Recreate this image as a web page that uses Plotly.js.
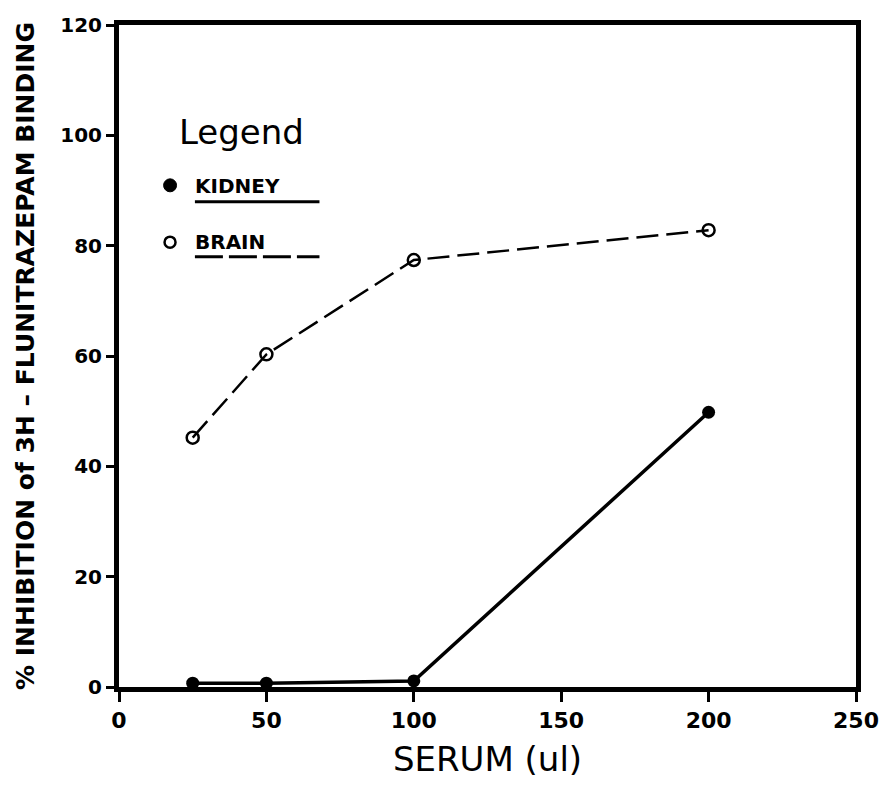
<!DOCTYPE html>
<html>
<head>
<meta charset="utf-8">
<script src="https://cdn.plot.ly/plotly-3.0.1.min.js"></script>
<style>body{margin:0;background:#fff;}#chart{width:891px;height:793px;}</style>
</head>
<body>
<div id="chart"></div>
<script>
const serum = [25, 50, 100, 200];
const kidney = [0.7, 0.7, 1.1, 49.8];
const brain = [45.2, 60.3, 77.4, 82.8];
const xTicks = [0, 50, 100, 150, 200, 250];
const yTicks = [0, 20, 40, 60, 80, 100, 120];

const fontFam = '"DejaVu Sans", "Liberation Sans", sans-serif';

const traces = [
  {
    x: serum, y: kidney, name: 'KIDNEY', mode: 'lines+markers',
    line: {color: '#000', width: 3.5},
    marker: {symbol: 'circle', size: 13, color: '#000'},
    showlegend: false
  },
  {
    x: serum, y: brain, name: 'BRAIN', mode: 'lines+markers',
    line: {color: '#000', width: 2.5, dash: '22px,8px'},
    marker: {symbol: 'circle-open', size: 12, color: '#000', line: {width: 2.5, color: '#000'}},
    showlegend: false
  }
];

const layout = {
  width: 891, height: 793,
  margin: {l: 119, r: 35, t: 25, b: 106},
  paper_bgcolor: '#fff', plot_bgcolor: '#fff',
  showlegend: false,
  xaxis: {
    range: [0, 250], tickvals: xTicks, ticktext: xTicks.map(String),
    ticks: 'outside', ticklen: 10, tickwidth: 3, tickcolor: '#000',
    showline: true, linewidth: 5, linecolor: '#000', mirror: true,
    showgrid: false, zeroline: false,
    tickfont: {family: fontFam, size: 22, color: '#000', weight: 'bold'},
    title: {text: 'SERUM (ul)', font: {family: fontFam, size: 34, color: '#000'}, standoff: 16}
  },
  yaxis: {
    range: [0, 120], tickvals: yTicks, ticktext: yTicks.map(String),
    ticks: 'outside', ticklen: 8, tickwidth: 3, tickcolor: '#000',
    showline: true, linewidth: 5, linecolor: '#000', mirror: true,
    showgrid: false, zeroline: false,
    tickfont: {family: fontFam, size: 20, color: '#000', weight: 'bold'},
    title: {text: '% INHIBITION of 3H \u2013 FLUNITRAZEPAM BINDING', font: {family: fontFam, size: 25, color: '#000', weight: 'bold'}, standoff: 20}
  },
  annotations: [
    {xref: 'paper', yref: 'paper', x: 0.079, y: 0.838, xanchor: 'left', yanchor: 'middle', showarrow: false,
     text: 'Legend', font: {family: fontFam, size: 34, color: '#000'}},
    {xref: 'paper', yref: 'paper', x: 0.101, y: 0.757, xanchor: 'left', yanchor: 'middle', showarrow: false,
     text: 'KIDNEY', font: {family: fontFam, size: 20, color: '#000', weight: 'bold'}},
    {xref: 'paper', yref: 'paper', x: 0.101, y: 0.672, xanchor: 'left', yanchor: 'middle', showarrow: false,
     text: 'BRAIN', font: {family: fontFam, size: 20, color: '#000', weight: 'bold'}}
  ],
  shapes: [
    {type: 'circle', xref: 'paper', yref: 'paper', x0: 0.0605, x1: 0.0781, y0: 0.748, y1: 0.7676, fillcolor: '#000', line: {color: '#000', width: 1}},
    {type: 'circle', xref: 'paper', yref: 'paper', x0: 0.0618, x1: 0.0767, y0: 0.6637, y1: 0.6803, fillcolor: 'rgba(0,0,0,0)', line: {color: '#000', width: 2.5}},
    {type: 'line', xref: 'paper', yref: 'paper', x0: 0.103, x1: 0.272, y0: 0.733, y1: 0.733, line: {color: '#000', width: 3}},
    {type: 'line', xref: 'paper', yref: 'paper', x0: 0.103, x1: 0.272, y0: 0.650, y1: 0.650, line: {color: '#000', width: 3, dash: '28px,6px'}}
  ]
};

Plotly.newPlot('chart', traces, layout, {staticPlot: true, displayModeBar: false});
</script>
</body>
</html>
